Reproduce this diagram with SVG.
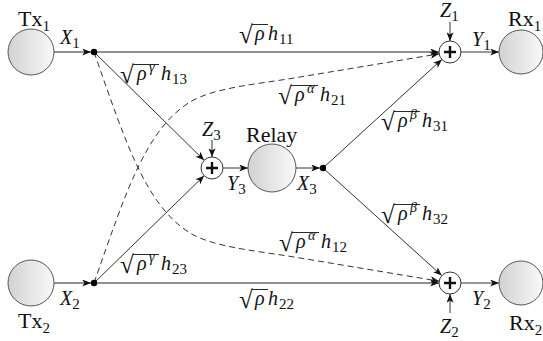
<svg xmlns="http://www.w3.org/2000/svg" width="543" height="341" viewBox="0 0 543 341">
<style>
text{font-family:"Liberation Serif","Times New Roman",serif;fill:#111}
.lb{font-size:22px}
.mi{font-size:20px;font-style:italic}
.sb{font-size:15px}
.ss{font-size:14px;font-style:italic}
.rd{font-size:25px}
.vin{stroke:#111;stroke-width:0.9}
.node{fill:url(#g);stroke:#555;stroke-width:1}
.add{fill:#fff;stroke:#333;stroke-width:1}
.plus{stroke:#111;stroke-width:2.4}
.hl{stroke:#6e6e6e;stroke-width:1.6;fill:none}
.ln{stroke:#333;stroke-width:1;fill:none}
.ds{stroke:#333;stroke-width:1;fill:none;stroke-dasharray:6 4}
</style>
<defs>
<linearGradient id="g" x1="0" y1="0" x2="1" y2="0">
<stop offset="0" stop-color="#d2d2d2"/>
<stop offset="1" stop-color="#f9f9f9"/>
</linearGradient>
<marker id="ah" viewBox="0 0 10 8" refX="10" refY="4" markerWidth="9" markerHeight="7" orient="auto" markerUnits="userSpaceOnUse">
<path d="M0,0 L10,4 L0,8 L2.5,4 z" fill="#111"/>
</marker>
</defs>

<g id="connectors">
<path class="hl" d="M54,52 L91,52" marker-end="url(#ah)"/>
<path class="hl" d="M94,52 L439,52" marker-end="url(#ah)"/>
<path class="ln" d="M94,52 L204.2,160.3" marker-end="url(#ah)"/>
<path class="ds" d="M94,52 C125,140 145,205 190,233 C215,248 260,251 300,258 L439.2,281.2" marker-end="url(#ah)"/>
<path class="hl" d="M54,283 L91,283" marker-end="url(#ah)"/>
<path class="hl" d="M94,283 L439,283" marker-end="url(#ah)"/>
<path class="ln" d="M94,283 L204.1,175.7" marker-end="url(#ah)"/>
<path class="ds" d="M94,283 C125,195 145,130 190,102 C215,87 260,84 300,77 L439.2,53.8" marker-end="url(#ah)"/>
<path class="ln" d="M212,140 L212,157" marker-end="url(#ah)"/>
<path class="ln" d="M223,168 L248,168" marker-end="url(#ah)"/>
<path class="ln" d="M296,168 L320,168" marker-end="url(#ah)"/>
<path class="ln" d="M323,168 L441.9,59.4" marker-end="url(#ah)"/>
<path class="ln" d="M323,168 L441.8,275.6" marker-end="url(#ah)"/>
<path class="ln" d="M450,22 L450,41" marker-end="url(#ah)"/>
<path class="ln" d="M461,52 L499,52" marker-end="url(#ah)"/>
<path class="ln" d="M450,313 L450,294" marker-end="url(#ah)"/>
<path class="ln" d="M461,283 L499,283" marker-end="url(#ah)"/>
</g>

<g id="tx1"><circle class="node" cx="31" cy="52" r="23"/><text class="lb" x="18" y="26">Tx<tspan class="sb" dy="5">1</tspan></text></g>
<g id="tx2"><circle class="node" cx="31" cy="283" r="23"/><text class="lb" x="18" y="328">Tx<tspan class="sb" dy="5">2</tspan></text></g>
<g id="rx1"><circle class="node" cx="521" cy="52" r="22"/><text class="lb" x="508" y="26">Rx<tspan class="sb" dy="5">1</tspan></text></g>
<g id="rx2"><circle class="node" cx="521" cy="283" r="22"/><text class="lb" x="509" y="330">Rx<tspan class="sb" dy="5">2</tspan></text></g>
<g id="relay"><circle class="node" cx="272" cy="168" r="24"/><text class="lb" x="246" y="142">Relay</text></g>

<g id="dot1"><circle cx="94" cy="52" r="3.2" fill="#000"/><text class="mi" x="60" y="44">X<tspan class="sb" font-style="normal" dy="4">1</tspan></text></g>
<g id="dot2"><circle cx="94" cy="283" r="3.2" fill="#000"/><text class="mi" x="60" y="305">X<tspan class="sb" font-style="normal" dy="4">2</tspan></text></g>
<g id="dot3"><circle cx="323" cy="168" r="3.2" fill="#000"/><text class="mi" x="297" y="190">X<tspan class="sb" font-style="normal" dy="4">3</tspan></text></g>

<g id="adder1"><circle class="add" cx="450" cy="52" r="11"/><path class="plus" d="M444,52 H456 M450,46 V58"/>
<text class="mi" x="440" y="17">Z<tspan class="sb" font-style="normal" dy="4">1</tspan></text>
<text class="mi" x="472" y="46">Y<tspan class="sb" font-style="normal" dy="4">1</tspan></text></g>
<g id="adder2"><circle class="add" cx="450" cy="283" r="11"/><path class="plus" d="M444,283 H456 M450,277 V289"/>
<text class="mi" x="440" y="333">Z<tspan class="sb" font-style="normal" dy="4">2</tspan></text>
<text class="mi" x="472" y="305">Y<tspan class="sb" font-style="normal" dy="4">2</tspan></text></g>
<g id="adder3"><circle class="add" cx="212" cy="168" r="11"/><path class="plus" d="M206,168 H218 M212,162 V174"/>
<text class="mi" x="202" y="136">Z<tspan class="sb" font-style="normal" dy="4">3</tspan></text>
<text class="mi" x="227" y="190">Y<tspan class="sb" font-style="normal" dy="4">3</tspan></text></g>

<g id="labels">
<g id="l11"><text class="rd" x="239" y="43">√</text><line class="vin" x1="252" y1="24.5" x2="268" y2="24.5"/><text class="mi" x="255" y="40">ρ</text><text class="mi" x="268" y="40">h</text><text class="sb" x="279" y="44">11</text></g>
<g id="l22"><text class="rd" x="239" y="308">√</text><line class="vin" x1="252" y1="289.5" x2="268" y2="289.5"/><text class="mi" x="255" y="305">ρ</text><text class="mi" x="268" y="305">h</text><text class="sb" x="279" y="309">22</text></g>
<g id="l13"><text class="rd" x="120" y="83">√</text><line class="vin" x1="133" y1="64.5" x2="159" y2="64.5"/><text class="mi" x="137" y="80">ρ</text><text class="ss" x="149" y="72">γ</text><text class="mi" x="161" y="80">h</text><text class="sb" x="172" y="84">13</text></g>
<g id="l23"><text class="rd" x="120" y="273">√</text><line class="vin" x1="133" y1="254.5" x2="159" y2="254.5"/><text class="mi" x="137" y="270">ρ</text><text class="ss" x="149" y="262">γ</text><text class="mi" x="161" y="270">h</text><text class="sb" x="172" y="274">23</text></g>
<g id="l21"><text class="rd" x="278" y="104">√</text><line class="vin" x1="291" y1="85.5" x2="318" y2="85.5"/><text class="mi" x="295" y="101">ρ</text><text class="ss" x="307" y="93">α</text><text class="mi" x="320" y="101">h</text><text class="sb" x="331" y="105">21</text></g>
<g id="l12"><text class="rd" x="279" y="251">√</text><line class="vin" x1="292" y1="232.5" x2="319" y2="232.5"/><text class="mi" x="296" y="248">ρ</text><text class="ss" x="308" y="240">α</text><text class="mi" x="321" y="248">h</text><text class="sb" x="332" y="252">12</text></g>
<g id="l31"><text class="rd" x="381" y="130">√</text><line class="vin" x1="394" y1="111.5" x2="420" y2="111.5"/><text class="mi" x="398" y="127">ρ</text><text class="ss" x="410" y="119">β</text><text class="mi" x="422" y="127">h</text><text class="sb" x="433" y="131">31</text></g>
<g id="l32"><text class="rd" x="381" y="223">√</text><line class="vin" x1="394" y1="204.5" x2="420" y2="204.5"/><text class="mi" x="398" y="220">ρ</text><text class="ss" x="410" y="212">β</text><text class="mi" x="422" y="220">h</text><text class="sb" x="433" y="224">32</text></g>
</g>
</svg>
